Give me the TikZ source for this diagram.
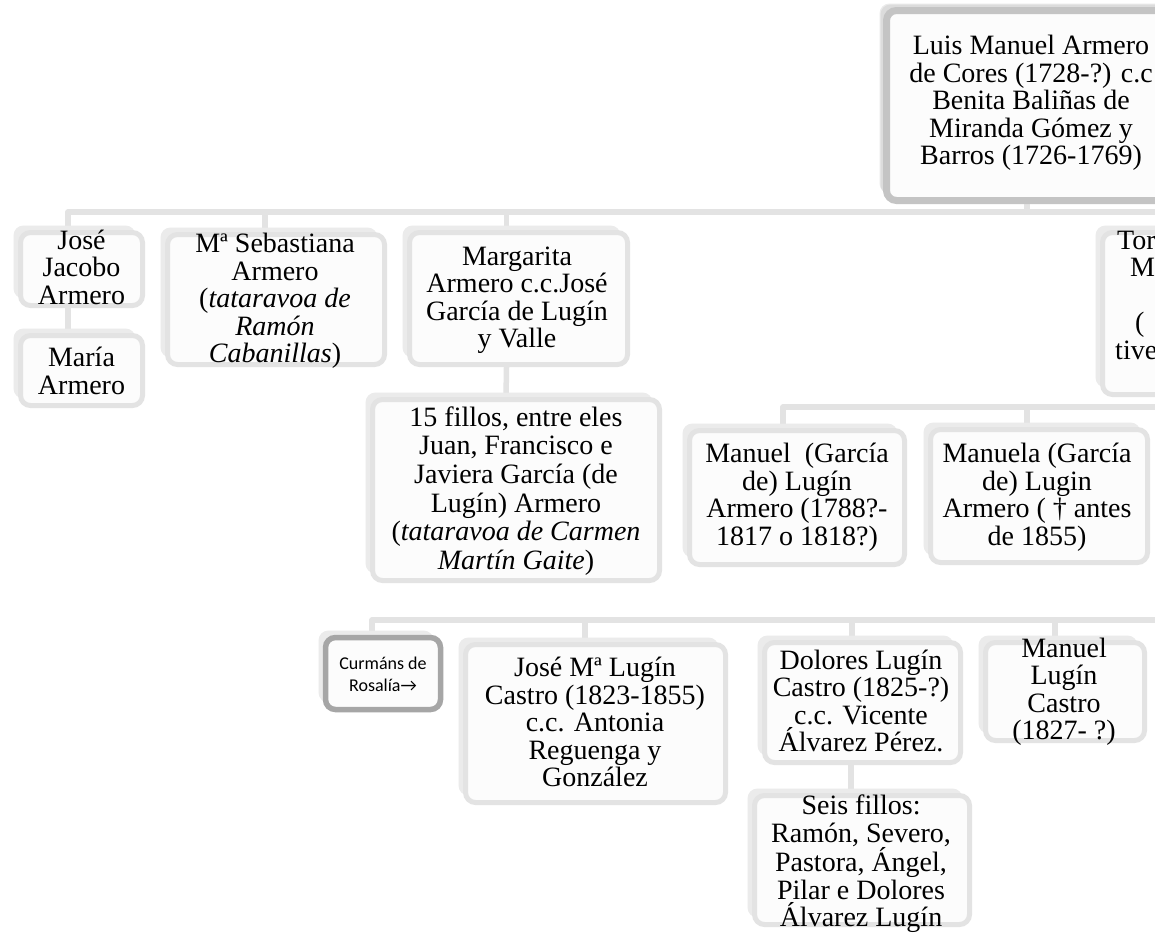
\documentclass[tikz,border=0pt]{standalone}
\usepackage{fontspec}
\setmainfont{Liberation Serif}
\newfontfamily\calib{Carlito}
\usetikzlibrary{shadows}
\pgfdeclarelayer{bg}
\pgfsetlayers{bg,main}
\definecolor{lnc}{HTML}{E3E3E3}
\definecolor{shc}{HTML}{EBEBEB}
\definecolor{fillc}{HTML}{FCFCFC}
\definecolor{darkb}{HTML}{C4C4C4}
\definecolor{darksh}{HTML}{DCDCDC}
\definecolor{curmb}{HTML}{A6A6A6}
\tikzset{
 conn/.style={draw=lnc, line width=5.5pt, line join=round},
 pbox/.style={draw=lnc, line width=5pt, fill=fillc, rounded corners=10pt, inner sep=0pt,
   general shadow={fill=shc, shadow xshift=-7pt, shadow yshift=7pt, rounded corners=10pt}},
 luisbox/.style={draw=darkb, line width=7pt, general shadow={fill=darksh, shadow xshift=-6pt, shadow yshift=6pt, rounded corners=10pt}},
 curmbox/.style={draw=curmb, line width=5.5pt, general shadow={fill=shc, shadow xshift=-3pt, shadow yshift=3pt, rounded corners=10pt}},
 txt/.style={align=center, inner sep=0pt, font=\fontsize{28pt}{27.5pt}\selectfont},
 txtw/.style={align=center, inner sep=0pt, font=\fontsize{28pt}{28.6pt}\selectfont},
 stxt/.style={align=center, inner sep=0pt, font=\calib\fontsize{18pt}{22pt}\selectfont},
}
\newcommand\famb[6][]{\node[pbox,#1,minimum width={#5-#3-5},minimum height={#6-#4-5}] (#2) at ({(#3+#5)/2},{(#4+#6)/2}) {};}
\begin{document}
\begin{tikzpicture}[x=1pt,y=-1pt]
\useasboundingbox (0,0) rectangle (1155,932);
\begin{pgfonlayer}{bg}
\fill[white] (0,0) rectangle (1155,932);
\end{pgfonlayer}
% ---- boxes
\famb[luisbox]{luis}{884}{8}{1190}{203}
\famb{jj}{18}{230}{145}{308}
\famb{maria}{18}{333}{145}{408}
\famb{seb}{165}{232}{387}{367}
\famb{marg}{407}{230}{630}{367}
\famb{tor}{1100}{230}{1250}{397}
\famb{quince}{370}{397}{662}{583}
\famb{mgar}{687}{428}{907}{567}
\famb{mela}{928}{427}{1150}{565}
\famb[curmbox]{curm}{323}{635}{443}{712}
\famb{josem}{463}{642}{728}{805}
\famb{dol}{762}{640}{963}{765}
\famb{mlc}{983}{640}{1147}{743}
\famb{seis}{752}{793}{972}{927}
\coordinate (src2) at (1200,407);
\coordinate (src3) at (1200,620);
% ---- connectors (behind boxes)
\begin{pgfonlayer}{bg}
\draw[conn] ([xshift=-10]luis.south) -- ++(0,8) -| ([xshift=-13.5]jj.north);
\draw[conn] ([xshift=-10]luis.south) -- ++(0,8) -| ([xshift=-11]seb.north);
\draw[conn] ([xshift=-10]luis.south) -- ++(0,8) -| ([xshift=-12]marg.north);
\draw[conn] ([xshift=-10]luis.south) -- ++(0,8) -| ([xshift=-10]tor.north);
\draw[conn] ([xshift=-13.5]jj.south) -- ([xshift=-13.5]maria.north);
\draw[conn] ([xshift=-12]marg.south) -- ([xshift=-10]quince.north);
\draw[conn] (src2) -| ([xshift=-14]mgar.north);
\draw[conn] (src2) -| ([xshift=-12]mela.north);
\draw[conn] (src3) -| ([xshift=-11]curm.north);
\draw[conn] (src3) -| ([xshift=-10.5]josem.north);
\draw[conn] (src3) -| ([xshift=-10.5]dol.north);
\draw[conn] (src3) -| ([xshift=-10]mlc.north);
\draw[conn] ([xshift=-11.5]dol.south) -- ([xshift=-11]seis.north);
\end{pgfonlayer}
% ---- texts
\node[txt] (luist) at (1031,103) {Luis Manuel Armero\\de Cores (1728-?) c.c\\Benita Baliñas de\\Miranda Gómez y\\Barros (1726-1769)};
\node[txt] (jjt) at (81.5,267) {José\\Jacobo\\Armero};
\node[txt] (mariat) at (81.5,371) {María\\Armero};
\node[txt] (sebt) at (275,301) {Mª Sebastiana\\Armero\\(\textit{tataravoa de}\\\textit{Ramón}\\\textit{Cabanillas})};
\node[txt] (margt) at (517,300) {Margarita\\Armero c.c.José\\García de Lugín\\y Valle};
\node[txt, anchor=base west] (tor1) at (1117,249) {Tor};
\node[txt, anchor=base west] (tor2) at (1130,276.5) {M};
\node[txt, anchor=base west] (tor4) at (1135,331.5) {(};
\node[txt, anchor=base west] (tor5) at (1115,359) {tive};
\node[txtw] (quincet) at (516,491) {15 fillos, entre eles\\Juan, Francisco e\\Javiera García (de\\Lugín) Armero\\(\textit{tataravoa de Carmen}\\\textit{Martín Gaite})};
\node[txt] (mgart) at (797,497) {Manuel\ \ (García\\de) Lugín\\Armero (1788?-\\1817 o 1818?)};
\node[txt] (melat) at (1037,497) {Manuela (García\\de) Lugin\\Armero ( † antes\\de 1855)};
\node[stxt] (curmt) at (383,674) {Curmáns de\\Rosalía→};
\node[txt] (josemt) at (595,722) {José Mª Lugín\\Castro (1823-1855)\\c.c. Antonia\\Reguenga y\\González};
\node[txt] (dolt) at (861,701) {Dolores Lugín\\Castro (1825-?)\\c.c. Vicente\\Álvarez Pérez.};
\node[txt] (mlct) at (1064,692) {Manuel\\Lugín\\Castro\\(1827- ?)};
\node[txt] (seist) at (861,864) {Seis fillos:\\Ramón, Severo,\\Pastora, Ángel,\\Pilar e Dolores\\Álvarez Lugín};
\end{tikzpicture}
\end{document}
